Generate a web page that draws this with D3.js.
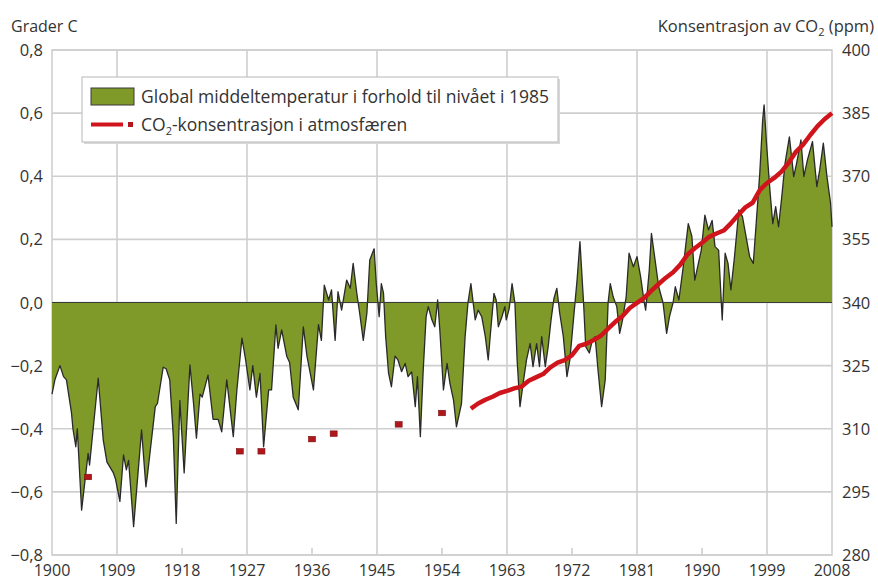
<!DOCTYPE html>
<html>
<head>
<meta charset="utf-8">
<script src="https://cdn.jsdelivr.net/npm/d3@7"></script>
<style>
  html, body { margin: 0; padding: 0; background: #fff; }
  svg { display: block; }
  text { font-family: "Open Sans", "Noto Sans", sans-serif; fill: #333; }
</style>
</head>
<body>
<svg id="chart" width="878" height="581"></svg>
<script>
// ---------- data ----------
const tempYears = [
  1900.0,1900.4,1901.1,1901.6,1902.0,1902.7,1902.9,1903.3,1903.5,1904.1,
  1905.0,1905.2,1906.4,1907.1,1907.6,1908.5,1908.8,1909.4,1909.9,1910.3,
  1910.6,1911.3,1912.4,1913.0,1913.2,1914.3,1914.6,1915.4,1915.8,1916.3,
  1916.8,1917.2,1917.7,1918.3,1919.1,1919.6,1920.0,1920.5,1920.8,1921.6,
  1922.3,1923.0,1923.5,1924.2,1925.1,1925.6,1926.3,1926.8,1927.4,1927.8,
  1928.3,1928.8,1929.3,1930.0,1930.4,1931.0,1931.3,1931.8,1932.5,1932.9,
  1933.4,1934.1,1934.8,1935.3,1936.2,1936.9,1937.3,1937.7,1938.3,1938.7,
  1939.2,1939.6,1940.1,1940.3,1940.8,1941.3,1941.7,1942.2,1942.6,1943.1,
  1943.6,1944.0,1944.6,1944.9,1945.3,1945.6,1945.9,1946.2,1946.6,1947.0,
  1947.5,1947.9,1948.4,1948.9,1949.3,1949.8,1950.3,1950.6,1951.0,1951.4,
  1951.8,1952.1,1952.6,1953.0,1953.4,1953.7,1954.2,1954.7,1955.1,1955.6,
  1956.0,1956.7,1957.2,1957.6,1958.0,1958.6,1959.0,1959.5,1960.0,1960.4,
  1960.7,1961.2,1961.5,1961.8,1962.3,1962.7,1962.9,1963.3,1963.7,1964.1,
  1964.4,1964.8,1965.3,1965.7,1966.2,1966.6,1967.1,1967.5,1967.8,1968.3,
  1968.7,1969.1,1969.5,1969.9,1970.3,1970.8,1971.3,1971.7,1972.2,1972.7,
  1973.1,1973.6,1973.9,1974.4,1974.7,1975.2,1975.6,1976.1,1976.6,1977.0,
  1977.3,1977.7,1978.2,1978.6,1979.0,1979.5,1979.9,1980.5,1981.0,1981.5,
  1982.0,1982.2,1982.7,1983.0,1983.5,1984.0,1984.6,1985.1,1985.5,1986.0,
  1986.3,1986.8,1987.4,1988.1,1988.6,1989.0,1989.5,1989.9,1990.4,1990.9,
  1991.4,1991.8,1992.3,1992.8,1993.2,1993.6,1994.0,1994.5,1995.1,1995.6,
  1996.1,1996.6,1997.1,1997.5,1998.0,1998.4,1998.6,1998.9,1999.4,1999.8,
  2000.2,2000.6,2001.0,2001.5,2002.1,2002.4,2002.7,2003.1,2003.7,2004.1,
  2004.6,2005.3,2005.9,2006.3,2006.8,2007.3,2007.8,2008.0
];
const tempValues = [
  -0.29,-0.245,-0.20,-0.235,-0.245,-0.35,-0.40,-0.457,-0.40,-0.658,
  -0.478,-0.515,-0.24,-0.436,-0.505,-0.54,-0.56,-0.63,-0.483,-0.53,
  -0.50,-0.71,-0.404,-0.584,-0.55,-0.33,-0.32,-0.205,-0.21,-0.245,
  -0.425,-0.70,-0.31,-0.54,-0.198,-0.32,-0.43,-0.29,-0.30,-0.23,
  -0.37,-0.37,-0.41,-0.245,-0.425,-0.277,-0.113,-0.18,-0.277,-0.20,
  -0.30,-0.225,-0.457,-0.277,-0.277,-0.071,-0.145,-0.087,-0.17,-0.19,
  -0.30,-0.34,-0.077,-0.17,-0.277,-0.07,-0.12,0.055,0.008,0.04,
  -0.12,0.034,-0.024,0.003,0.071,0.045,0.124,0.03,-0.034,-0.12,
  -0.034,0.135,0.17,0.06,-0.045,0.06,0.03,-0.108,-0.224,-0.267,
  -0.17,-0.182,-0.219,-0.193,-0.235,-0.22,-0.33,-0.235,-0.425,-0.214,
  -0.045,-0.013,-0.055,-0.077,0.008,-0.087,-0.277,-0.193,-0.256,-0.31,
  -0.394,-0.32,-0.108,0.0,0.06,-0.055,-0.024,-0.045,-0.108,-0.182,
  -0.10,0.029,0.008,-0.077,-0.045,-0.013,-0.055,-0.02,0.06,-0.003,
  -0.182,-0.33,-0.245,-0.182,-0.13,-0.203,-0.13,-0.203,-0.108,-0.203,
  -0.14,-0.055,0.013,0.045,-0.034,-0.108,-0.235,-0.182,-0.055,0.071,
  0.193,0.0,-0.14,-0.16,-0.13,-0.108,-0.214,-0.33,-0.245,0.0,
  0.06,0.018,-0.013,-0.098,-0.055,0.018,0.156,0.113,0.145,0.082,
  0.0,-0.024,0.103,0.219,0.135,0.05,0.0,-0.098,-0.045,0.0,
  0.05,0.008,0.113,0.25,0.209,0.071,0.124,0.166,0.277,0.23,
  0.26,0.177,0.166,-0.055,0.156,0.124,0.04,0.145,0.293,0.272,
  0.209,0.145,0.124,0.25,0.41,0.578,0.626,0.515,0.356,0.25,
  0.304,0.24,0.325,0.441,0.525,0.462,0.399,0.441,0.515,0.399,
  0.452,0.51,0.367,0.42,0.505,0.399,0.315,0.24
];
const co2Years = [
  1958,1959,1960,1961,1962,1963,1964,1965,1966,1967,1968,1969,1970,1971,1972,1973,
  1974,1975,1976,1977,1978,1979,1980,1981,1982,1983,1984,1985,1986,1987,1988,1989,
  1990,1991,1992,1993,1994,1995,1996,1997,1998,1999,2000,2001,2002,2003,2004,2005,
  2006,2007,2008
];
const co2Values = [
  314.8,316.0,316.9,317.6,318.5,319.0,319.6,320.0,321.4,322.2,323.0,324.6,325.7,326.3,327.5,329.7,
  330.2,331.1,332.1,333.8,335.4,336.8,338.7,339.9,341.1,342.8,344.4,345.9,347.2,349.0,351.4,352.9,
  354.2,355.6,356.4,357.1,358.8,360.8,362.6,363.7,366.7,368.4,369.6,371.1,373.2,375.8,377.5,379.8,
  381.9,383.6,385.0
];
const co2DotYears = [1905, 1926, 1929, 1936, 1939, 1948, 1954];
const co2DotValues = [298.6, 304.7, 304.7, 307.6, 308.9, 311.1, 313.8];

const leftTicks = [-0.8,-0.6,-0.4,-0.2,0,0.2,0.4,0.6,0.8];
const rightTicks = [280,295,310,325,340,355,370,385,400];
const xTicks = [1900,1909,1918,1927,1936,1945,1954,1963,1972,1981,1990,1999,2008];
const xGridYears = [1909,1927,1945,1963,1981,1999];
const xMinorTickYears = [1918,1936,1954,1972,1990];

const leftTitle = "Grader C";
const rightTitleParts = ["Konsentrasjon av CO", "2", " (ppm)"];
const legendTemp = "Global middeltemperatur i forhold til nivået i 1985";
const legendCo2Parts = ["CO", "2", "-konsentrasjon i atmosfæren"];

// ---------- layout ----------
const svg = d3.select("#chart");
const L = 52, R = 832, T = 50, B = 555;
const x = d3.scaleLinear().domain([1900, 2008]).range([L, R]);
const y = d3.scaleLinear().domain([-0.8, 0.8]).range([B, T]);
const y2 = d3.scaleLinear().domain([280, 400]).range([B, T]);

const gridColor = "#cfcfcf";
const green = "#7f9a28";
const red = "#d0141c";
const fmt = v => d3.format(".1f")(v).replace(".", ",").replace("-0,0", "0,0");

// horizontal grid
svg.append("g").selectAll("line").data(leftTicks).join("line")
  .attr("x1", L).attr("x2", R)
  .attr("y1", d => y(d)).attr("y2", d => y(d))
  .attr("stroke", gridColor).attr("stroke-width", 1.6);

// vertical grid
svg.append("g").selectAll("line").data(xGridYears).join("line")
  .attr("x1", d => x(d)).attr("x2", d => x(d))
  .attr("y1", T).attr("y2", B)
  .attr("stroke", gridColor).attr("stroke-width", 1.6);

// minor ticks at bottom
svg.append("g").selectAll("line").data(xMinorTickYears).join("line")
  .attr("x1", d => x(d)).attr("x2", d => x(d))
  .attr("y1", B - 7).attr("y2", B)
  .attr("stroke", gridColor).attr("stroke-width", 1.6);

// frame
svg.append("rect").attr("x", L).attr("y", T).attr("width", R - L).attr("height", B - T)
  .attr("fill", "none").attr("stroke", gridColor).attr("stroke-width", 1.6);

// temperature area
const tempData = tempYears.map((yr, i) => ({ yr, v: tempValues[i] }));
const area = d3.area().x(d => x(d.yr)).y0(y(0)).y1(d => y(d.v));
svg.append("path").datum(tempData).attr("d", area)
  .attr("fill", green).attr("stroke", "none");
const line = d3.line().x(d => x(d.yr)).y(d => y(d.v));
svg.append("path").datum(tempData).attr("d", line)
  .attr("fill", "none").attr("stroke", "#2a2a2a").attr("stroke-width", 1.3)
  .attr("stroke-linejoin", "round");
svg.append("line").attr("x1", L).attr("x2", R).attr("y1", y(0)).attr("y2", y(0))
  .attr("stroke", "#3a3a3a").attr("stroke-width", 1.2);

// CO2 dots
const dotData = co2DotYears.map((yr, i) => ({ yr, v: co2DotValues[i] }));
svg.append("g").selectAll("rect").data(dotData).join("rect")
  .attr("x", d => x(d.yr) - 3.5).attr("y", d => y2(d.v) - 2.5)
  .attr("width", 7).attr("height", 5.5)
  .attr("fill", "#b0161c").attr("stroke", "#7a1010").attr("stroke-width", 0.6);

// CO2 line
const co2Data = co2Years.map((yr, i) => ({ yr, v: co2Values[i] }));
svg.append("path").datum(co2Data)
  .attr("d", d3.line().x(d => x(d.yr)).y(d => y2(d.v)))
  .attr("fill", "none").attr("stroke", red).attr("stroke-width", 4.5)
  .attr("stroke-linejoin", "round");

// left axis labels
svg.append("g").selectAll("text").data(leftTicks).join("text")
  .attr("x", 43).attr("y", d => y(d) + 6)
  .attr("text-anchor", "end").attr("font-size", 16.5)
  .text(d => fmt(d));

// right axis labels
svg.append("g").selectAll("text").data(rightTicks).join("text")
  .attr("x", 842).attr("y", d => y2(d) + 6)
  .attr("text-anchor", "start").attr("font-size", 16.5)
  .text(d => d);

// bottom axis labels
svg.append("g").selectAll("text").data(xTicks).join("text")
  .attr("x", d => x(d)).attr("y", 576)
  .attr("text-anchor", "middle").attr("font-size", 16)
  .text(d => d);

// titles
svg.append("text").attr("x", 11).attr("y", 32).attr("font-size", 16).text(leftTitle);
const rt = svg.append("text").attr("x", 874).attr("y", 32).attr("font-size", 16.5)
  .attr("text-anchor", "end");
rt.append("tspan").text(rightTitleParts[0]);
rt.append("tspan").attr("font-size", 11).attr("dy", 4).text(rightTitleParts[1]);
rt.append("tspan").attr("dy", -4).text(rightTitleParts[2]);

// legend
const lg = svg.append("g");
lg.append("rect").attr("x", 84).attr("y", 79).attr("width", 476).attr("height", 65)
  .attr("fill", "#d8d8d8");
lg.append("rect").attr("x", 82).attr("y", 77).attr("width", 476).attr("height", 65)
  .attr("fill", "#fff").attr("stroke", "#c4c4c4").attr("stroke-width", 1.2);
lg.append("rect").attr("x", 91).attr("y", 88).attr("width", 43).attr("height", 17)
  .attr("fill", green).attr("stroke", "#3a3a3a").attr("stroke-width", 1);
lg.append("text").attr("x", 141).attr("y", 103).attr("font-size", 17.5).text(legendTemp);
lg.append("line").attr("x1", 91).attr("x2", 123).attr("y1", 124.5).attr("y2", 124.5)
  .attr("stroke", red).attr("stroke-width", 4);
lg.append("rect").attr("x", 128).attr("y", 122).attr("width", 5).attr("height", 5)
  .attr("fill", "#b0161c");
const lt = lg.append("text").attr("x", 141).attr("y", 131).attr("font-size", 17.5);
lt.append("tspan").text(legendCo2Parts[0]);
lt.append("tspan").attr("font-size", 11).attr("dy", 4).text(legendCo2Parts[1]);
lt.append("tspan").attr("dy", -4).text(legendCo2Parts[2]);
</script>
</body>
</html>
